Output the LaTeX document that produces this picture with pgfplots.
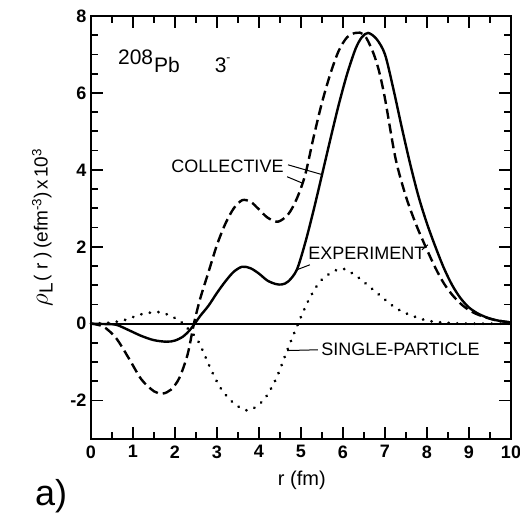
\documentclass[border=0pt]{standalone}
\usepackage{fontspec}
\setmainfont{Liberation Sans}
\usepackage{pgfplots}
\pgfplotsset{compat=1.18}
\begin{document}
\begin{tikzpicture}[x=1pt,y=1pt]
\path[use as bounding box] (0,0) rectangle (520,515);
\begin{axis}[
  at={(91pt,76pt)}, anchor=south west,
  scale only axis, width=420pt, height=423pt,
  xmin=0, xmax=10, ymin=-3, ymax=8,
  axis line style={line width=2.2pt},
  tick align=inside,
  xtick pos=both, ytick pos=both,
  xticklabel pos=lower, yticklabel pos=left,
  xtick={0,1,2,3,4,5,6,7,8,9,10},
  xticklabels={0,1,2,3,4,5,6,7,8,9,10},
  minor x tick num=1,
  ytick={-2,0,2,4,6,8},
  yticklabels={-2,0,2,4,6,8},
  minor y tick num=3,
  major tick length=12pt, minor tick length=7pt,
  every tick/.style={line width=1.8pt, black},
  tick label style={font=\fontsize{18}{18}\selectfont\bfseries},
  /pgf/number format/assume math mode=true,
  xticklabel style={yshift=-3pt},
  yticklabel style={xshift=-1pt},
  xlabel={r (fm)},
  xlabel style={font=\fontsize{20}{20}\selectfont, at={(axis description cs:0.502,0)}, anchor=center, yshift=-41pt},
  ylabel={{\fontsize{26}{26}\selectfont$\rho$}\raisebox{-5pt}{L}\kern2pt ( r )\kern3pt (efm\textsuperscript{-3})\kern3pt x\kern2pt 10\textsuperscript{3}},
  ylabel style={font=\fontsize{19}{19}\selectfont, at={(axis description cs:-0.116,0.50)}, anchor=center},
  clip=false,
]
% zero line
\addplot[black, line width=2pt] coordinates {(0,0) (10,0)};
% experiment (solid)
\addplot[black, line width=2.4pt, smooth] coordinates {
(0,0) (0.3,-0.01) (0.6,-0.03) (0.9,-0.17) (1.2,-0.32) (1.5,-0.43) (1.8,-0.47)
(2.0,-0.44) (2.2,-0.33) (2.35,-0.17) (2.47,0) (2.6,0.2) (2.8,0.47) (3.0,0.8)
(3.2,1.1) (3.4,1.35) (3.6,1.48) (3.8,1.44) (4.0,1.3) (4.2,1.12) (4.4,1.03)
(4.55,1.02) (4.7,1.1) (4.9,1.4) (5.1,2.1) (5.3,2.95) (5.5,3.87) (5.7,4.8)
(5.9,5.7) (6.1,6.5) (6.3,7.15) (6.45,7.45) (6.6,7.56) (6.8,7.4) (7.0,7.0)
(7.2,6.1) (7.4,5.1) (7.6,4.15) (7.8,3.3) (8.0,2.6) (8.2,2.0) (8.4,1.45)
(8.6,1.0) (8.8,0.66) (9.0,0.42) (9.2,0.27) (9.4,0.17) (9.6,0.1) (9.8,0.06) (10,0.03)};
% collective (dashed)
\addplot[black, line width=2.4pt, smooth, dash pattern=on 10pt off 5pt] coordinates {
(0,0) (0.3,-0.08) (0.6,-0.38) (0.9,-0.9) (1.2,-1.45) (1.5,-1.76) (1.7,-1.82)
(1.9,-1.72) (2.1,-1.42) (2.3,-0.8) (2.45,0) (2.6,0.65) (2.8,1.35) (3.0,2.05)
(3.2,2.6) (3.4,3.0) (3.6,3.21) (3.8,3.17) (4.0,2.97) (4.2,2.76) (4.45,2.65)
(4.7,2.85) (4.9,3.25) (5.1,3.87) (5.3,4.85) (5.5,5.75) (5.7,6.5) (5.9,7.1)
(6.1,7.45) (6.3,7.56) (6.5,7.52) (6.7,7.1) (6.85,6.6) (7.0,5.85) (7.25,4.3)
(7.5,3.3) (7.75,2.55) (8.0,1.92) (8.2,1.45) (8.4,1.05) (8.6,0.75) (8.8,0.52)
(9.0,0.35) (9.2,0.24) (9.4,0.16) (9.6,0.1) (9.8,0.06) (10,0.03)};
% single particle (dotted)
\addplot[black, line width=3pt, smooth, line cap=round, dash pattern=on 0.1pt off 8.5pt] coordinates {
(0,0) (0.4,0.02) (0.76,0.08) (1.0,0.17) (1.26,0.26) (1.62,0.3) (1.9,0.2)
(2.14,0.05) (2.3,-0.12) (2.55,-0.45) (2.86,-1.2) (3.1,-1.7) (3.4,-2.07)
(3.74,-2.26) (4.1,-2.0) (4.4,-1.45) (4.67,-0.7) (4.93,0) (5.2,0.65)
(5.5,1.15) (5.95,1.43) (6.3,1.25) (6.72,0.88) (7.2,0.45) (7.52,0.26)
(8.0,0.08) (8.5,0.02) (9.0,0.0) (10,0)};
% labels
\node[anchor=base west, font=\fontsize{21}{21}\selectfont, inner sep=0pt] at (axis cs:0.64,6.52)
  {\raisebox{8pt}{208}\kern1pt Pb\hspace{35pt}3\raisebox{11pt}{\fontsize{12}{12}\selectfont -}};
\node[font=\fontsize{18}{18}\selectfont, inner sep=0pt] at (axis cs:3.25,4.1) {COLLECTIVE};
\node[font=\fontsize{18}{18}\selectfont, inner sep=0pt] at (axis cs:6.57,1.84) {EXPERIMENT};
\node[font=\fontsize{18}{18}\selectfont, inner sep=0pt] at (axis cs:7.37,-0.68) {SINGLE-PARTICLE};
\draw[line width=1pt] (axis cs:4.69,4.13) -- (axis cs:5.52,3.87);
\draw[line width=1pt] (axis cs:4.67,3.82) -- (axis cs:5.02,3.66);
\draw[line width=1pt] (axis cs:5.21,1.53) -- (axis cs:4.9,1.4);
\draw[line width=1pt] (axis cs:7.88,1.92) -- (axis cs:8.02,2.05);
\draw[line width=1pt] (axis cs:5.40,-0.68) -- (axis cs:4.67,-0.70);
\end{axis}
\node[anchor=base west, font=\fontsize{36}{36}\selectfont, inner sep=0pt] at (35,10) {a)};
\end{tikzpicture}
\end{document}
